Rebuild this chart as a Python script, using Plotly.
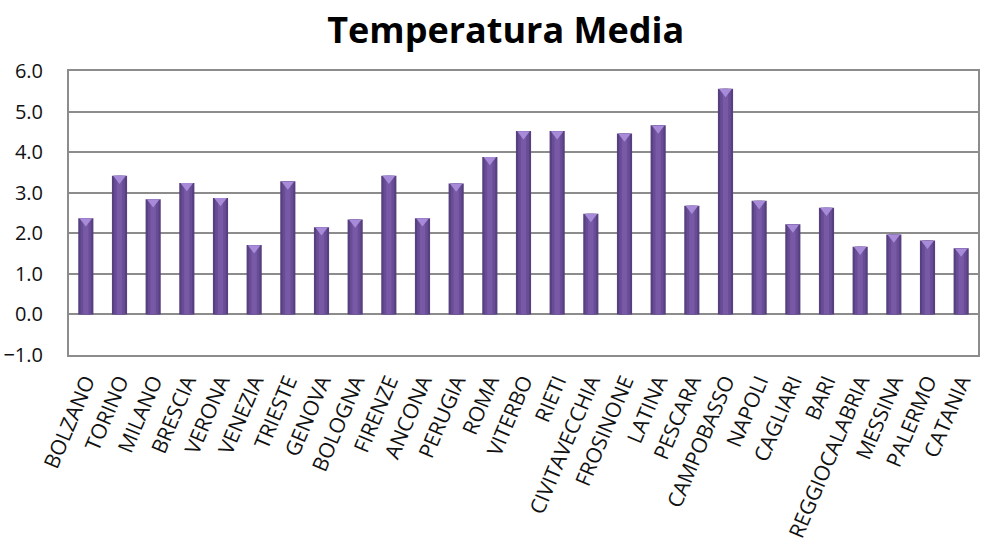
import plotly.graph_objects as go

cities = ["BOLZANO", "TORINO", "MILANO", "BRESCIA", "VERONA", "VENEZIA", "TRIESTE",
          "GENOVA", "BOLOGNA", "FIRENZE", "ANCONA", "PERUGIA", "ROMA", "VITERBO", "RIETI",
          "CIVITAVECCHIA", "FROSINONE", "LATINA", "PESCARA", "CAMPOBASSO", "NAPOLI",
          "CAGLIARI", "BARI", "REGGIOCALABRIA", "MESSINA", "PALERMO", "CATANIA"]
temps = [2.37, 3.42, 2.84, 3.24, 2.87, 1.71, 3.28, 2.15, 2.34, 3.42, 2.37, 3.23, 3.88,
         4.52, 4.52, 2.48, 4.46, 4.66, 2.68, 5.56, 2.80, 2.22, 2.63, 1.67, 1.97, 1.82, 1.63]
y_ticks = [-1, 0, 1, 2, 3, 4, 5, 6]

fig = go.Figure()
layers = [(0.45, "#56407F"), (0.32, "#684C96"), (0.16, "#7759A6")]
for w, c in layers:
    fig.add_trace(go.Bar(x=cities, y=temps, width=w, marker=dict(color=c, line=dict(width=0)),
                         hoverinfo="x+y", showlegend=False))
# bevel highlight at the top of each bar
fig.add_trace(go.Scatter(x=cities, y=[t - 0.07 for t in temps], mode="markers",
                         marker=dict(symbol="triangle-down", size=11, color="#A88BD8",
                                     line=dict(width=0)),
                         hoverinfo="skip", showlegend=False))

fig.update_layout(
    barmode="overlay",
    width=982, height=546,
    paper_bgcolor="white", plot_bgcolor="white",
    margin=dict(l=69, r=4, t=71, b=191, autoexpand=False),
    title=dict(text="<b>Temperatura Media</b>", x=0.515, xanchor="center",
               yref="container", y=0.945, yanchor="middle", automargin=False,
               font=dict(family="Open Sans", size=36, color="black")),
    font=dict(family="Open Sans", color="#111111"),
)
fig.update_xaxes(range=[-0.5, len(cities) - 0.5], tickangle=-67,
                 tickfont=dict(size=21, color="#111111"), showgrid=False,
                 showline=True, linecolor="#8c8c8c", linewidth=2, mirror=True, ticks="",
                 automargin=False, ticklabelstandoff=4)
fig.update_yaxes(range=[-1, 6], tickvals=y_ticks, tickformat=".1f",
                 tickfont=dict(size=20, color="#111111"), showgrid=True, gridcolor="#8c8c8c",
                 gridwidth=2, zeroline=True, zerolinecolor="#8c8c8c", zerolinewidth=2,
                 showline=True, linecolor="#8c8c8c", linewidth=2, mirror=True, ticks="",
                 ticklabelstandoff=20, automargin=False)
fig.write_html("out.html", config={"displayModeBar": False},
               post_script="document.body.style.margin='0';")
